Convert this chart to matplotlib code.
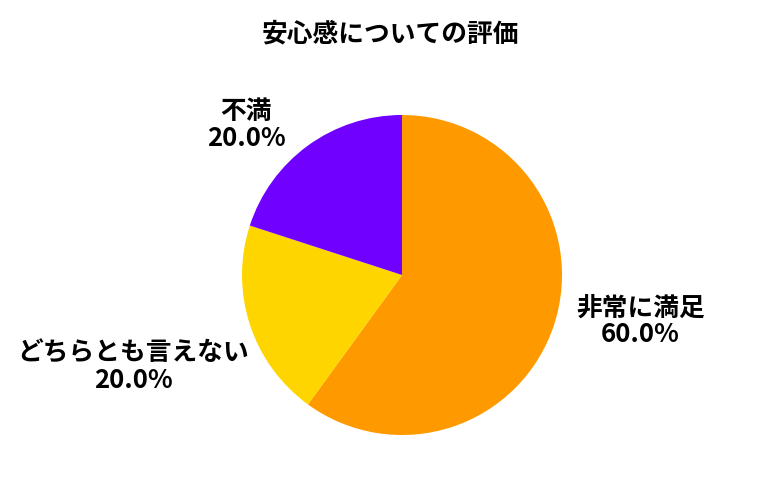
import matplotlib.pyplot as plt

plt.rcParams['font.family'] = ['Noto Sans CJK JP', 'DejaVu Sans']

# data
labels = ['非常に満足', 'どちらとも言えない', '不満']
values = [60, 20, 20]
colors = ['#FF9900', '#FFD500', '#7000FF']

# where each label sits (pie radius = 1)
label_xy = [(1.49, -0.29), (-1.68, -0.575), (-0.975, 0.94)]

fig = plt.figure(figsize=(7.8, 5), dpi=100)
ax = fig.add_axes([242 / 780, 65 / 500, 320 / 780, 320 / 500])

total = sum(values)
texts = [f"{name}\n{v / total * 100:.1f}%" for name, v in zip(labels, values)]

wedges, label_texts = ax.pie(values, labels=texts, colors=colors, startangle=90,
                             counterclock=False, radius=1.0,
                             textprops=dict(fontsize=18.5, fontweight='bold',
                                            linespacing=1.0))
for t, xy in zip(label_texts, label_xy):
    t.set_position(xy)
    t.set_horizontalalignment('center')
    t.set_verticalalignment('center')
    t.set_multialignment('center')

ax.set_xlim(-1, 1)
ax.set_ylim(-1, 1)
ax.set_aspect('equal')

fig.text(0.5, 1 - 34 / 500, '安心感についての評価', ha='center', va='center',
         fontsize=18.5, fontweight='bold')

fig.savefig('out.png', dpi=100)
